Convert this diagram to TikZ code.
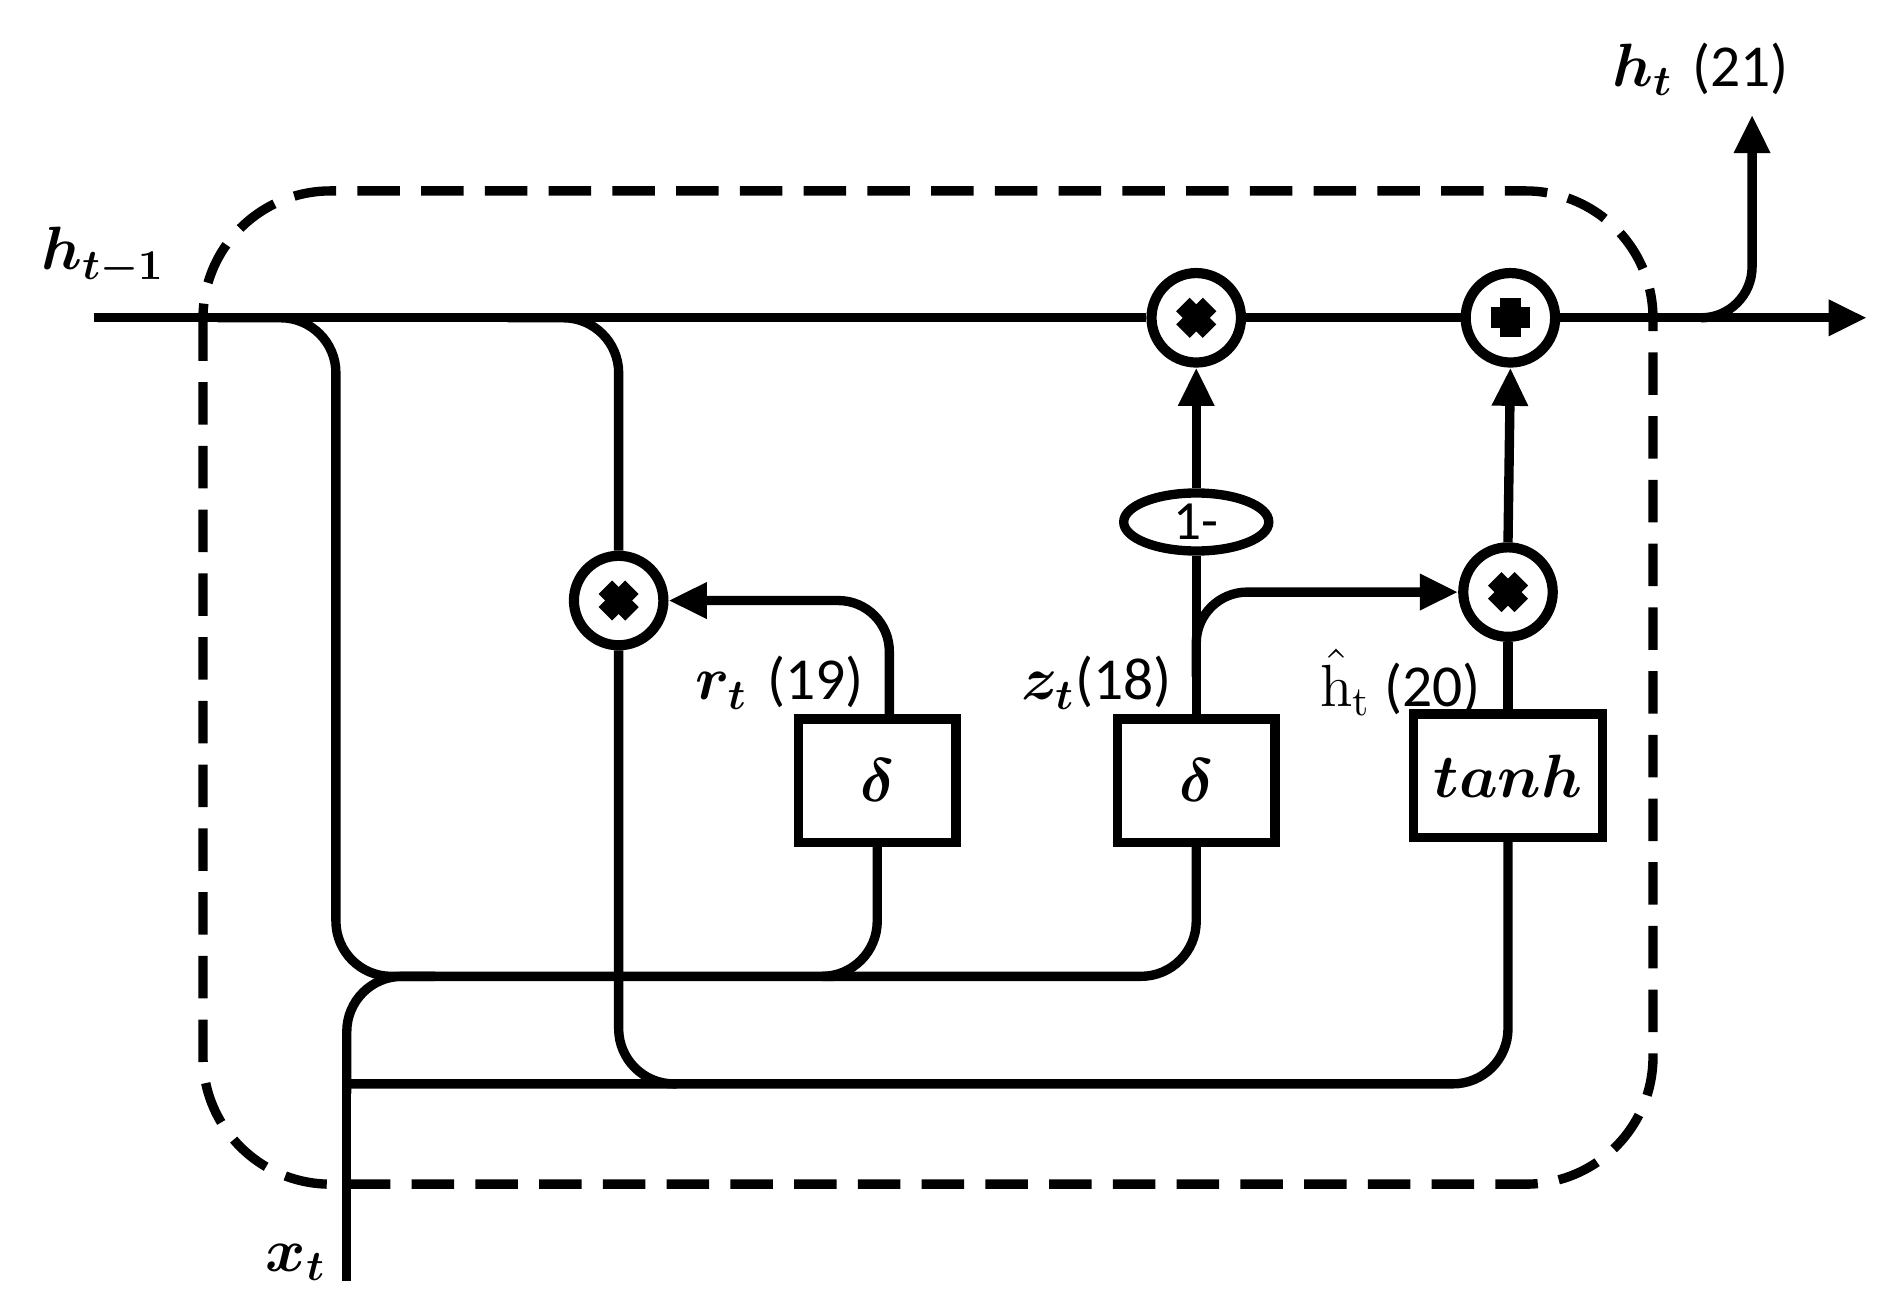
\documentclass[tikz,border=0pt]{standalone}
\usepackage{fontspec}
\usepackage{amsmath,bm}
\newfontfamily\calf{Carlito}
\usetikzlibrary{arrows.meta,shapes.geometric}
\begin{document}
\begin{tikzpicture}[x=0.01cm,y=-0.01cm,
  ln/.style={line width=2.2pt,rounded corners=13pt},
  ar/.style={line width=2.2pt,-{Triangle[length=9pt,width=8pt]}},
  op/.style={circle,draw,line width=2.4pt,minimum size=0.74cm,inner sep=0pt,fill=white},
  bx/.style={draw,line width=2.2pt,minimum width=1.3cm,minimum height=1.02cm,fill=white,font=\fontsize{14}{16}\selectfont},
  lb/.style={font=\fontsize{14}{16}\selectfont}]
\useasboundingbox (0,0) rectangle (1560,1082);
\draw[line width=2.2pt,dash pattern=on 10pt off 5pt,rounded corners=30pt] (168,158) rectangle (1368,980);
% main line
\coordinate (hin) at (78,263);
\coordinate (hout) at (1545,263);
\coordinate (htop) at (1450,95);
% operators
\node[op] (m1) at (990,263) {};
\node[op] (pl) at (1250,263) {};
\node[op] (mr) at (512,497) {};
\node[op] (mh) at (1248,490) {};
\foreach \n in {m1,mr,mh}{
 \draw[line width=4.5pt] ([shift={(-11,-11)}]\n.center) -- ([shift={(11,11)}]\n.center);
 \draw[line width=4.5pt] ([shift={(-11,11)}]\n.center) -- ([shift={(11,-11)}]\n.center);}
\draw[line width=5pt] ([shift={(-16,0)}]pl.center) -- ([shift={(16,0)}]pl.center);
\draw[line width=5pt] ([shift={(0,-16)}]pl.center) -- ([shift={(0,16)}]pl.center);
\node[ellipse,draw,line width=2.2pt,minimum width=1.2cm,minimum height=0.48cm,inner sep=0pt,fill=white,font=\calf\fontsize{13}{15}\selectfont] (om) at (990,432) {1-};
\node[bx] (d1) at (726,646) {$\bm{\delta}$};
\node[bx] (d2) at (990,646) {$\bm{\delta}$};
\node[bx,minimum width=1.56cm] (th) at (1248,642) {$\bm{tanh}$};
\draw[line width=2.2pt] (hin) -- (m1);
\draw[line width=2.2pt] (m1) -- (pl);
\draw[ar] (pl) -- (hout);
\draw[ar,rounded corners=12pt] (1410,263) -| (htop);
% branches from h_{t-1}
\draw[ln] (180,263) -| (278,808) -- (350,808);
\draw[ln] (350,808) -| (d2.south);
\draw[ln] (690,808) -| (d1.south);
\draw[ln] (420,263) -| (mr.north);
\draw[ln] (mr.south) |- (560,897);
% x_t
\coordinate (xt) at (287,1060);
\draw[line width=2.2pt] (xt) -- (287,897);
\draw[ln] (287,905) |- (360,808);
\draw[ln] (287,897) -| (th.south);
% gate outputs
\draw[ar,rounded corners=12pt] (736,594) |- (mr.east);
\draw[line width=2.2pt] (d2.north) -- (om.south);
\draw[ar] (om.north) -- (m1.south);
\draw[ar,rounded corners=12pt] (990,560) |- (mh.west);
\draw[line width=2.2pt] (th.north) -- (mh.south);
\draw[ar] (mh.north) -- (pl.south);
% labels
\node[lb,anchor=west] at (22,212) {$\bm{h_{t-1}}$};
\node[lb,anchor=west] at (1322,57) {$\bm{h_t}$ {\calf(21)}};
\node[lb] at (245,1045) {$\bm{x_t}$};
\node[lb,anchor=east] at (727,565) {$\bm{r_t}$ {\calf(19)}};
\node[lb,anchor=east] at (982,565) {$\bm{z_t}${\calf(18)}};
\node[lb,anchor=east] at (1238,565) {\calf $\hat{\mathrm{h}}_{\mathrm{t}}$ (20)};
\end{tikzpicture}
\end{document}
